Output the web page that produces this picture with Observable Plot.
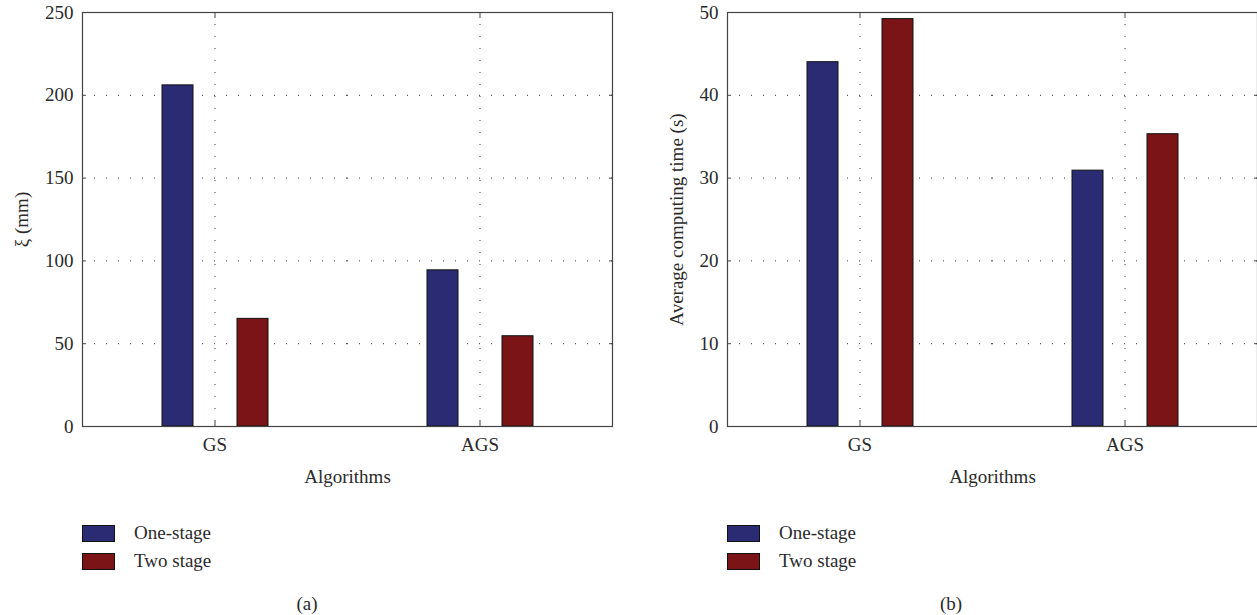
<!DOCTYPE html>
<html>
<head>
<meta charset="utf-8">
<script src="https://cdn.jsdelivr.net/npm/d3@7"></script>
<script src="https://cdn.jsdelivr.net/npm/@observablehq/plot@0.6"></script>
<style>
  html, body { margin: 0; padding: 0; background: #fff; }
  body { width: 1257px; height: 615px; position: relative; overflow: hidden; font-family: "Liberation Serif", serif; color: #2a2a2a; }
  .panel { position: absolute; top: 0; width: 628px; height: 615px; }
  .legend { position: absolute; left: 82px; top: 519px; font-size: 19px; }
  .legend .row { display: flex; align-items: center; height: 28px; }
  .legend .sw { width: 33px; height: 17px; border: 1px solid #111; box-sizing: border-box; margin-right: 19px; }
  .caption { position: absolute; top: 593px; font-size: 19px; transform: translateX(-50%); }
</style>
</head>
<body>
<div class="panel" id="pa"></div>
<div class="panel" id="pb" style="left:645px"></div>
<script>
const categories = ["GS", "AGS"];
const seriesNames = ["One-stage", "Two stage"];
const xiOneStage = [206, 94.3];
const xiTwoStage = [65, 54.5];
const timeOneStage = [44.0, 30.9];
const timeTwoStage = [49.2, 35.3];
const xiTicks = [0, 50, 100, 150, 200, 250];
const timeTicks = [0, 10, 20, 30, 40, 50];
const seriesColors = ["#2a2b73", "#7b1416"];

function buildPanel(one, two, ticks, yLabel, labelOffset) {
  const rows = categories.flatMap((c, i) => [
    {alg: c, series: seriesNames[0], v: one[i]},
    {alg: c, series: seriesNames[1], v: two[i]}
  ]);
  const dots = {stroke: "#333", strokeOpacity: 1, strokeDasharray: "1,11", strokeWidth: 1};
  return Plot.plot({
    width: 628, height: 500,
    marginLeft: 82, marginRight: 16, marginTop: 12, marginBottom: 74,
    style: {fontFamily: "Liberation Serif, serif", fontSize: "19px", color: "#2a2a2a", background: "white", overflow: "visible"},
    fx: {domain: categories, padding: 0, label: null},
    x: {domain: seriesNames, paddingInner: 0.587, paddingOuter: 1.06, axis: null},
    y: {domain: [ticks[0], ticks[ticks.length - 1]], axis: null},
    color: {domain: seriesNames, range: seriesColors},
    marks: [
      Plot.gridY(ticks.slice(1, -1), dots),
      Plot.gridFx(dots),
      Plot.barY(rows, {fx: "alg", x: "series", y: "v", fill: "series", stroke: "#111", strokeWidth: 1}),
      Plot.axisY(ticks, {anchor: "left", tickSize: -4, tickPadding: 13, stroke: "#444", label: yLabel, labelAnchor: "center", labelArrow: "none", labelOffset: labelOffset}),
      Plot.axisY(ticks, {anchor: "right", tickSize: -4, stroke: "#444", tickFormat: () => "", label: null}),
      Plot.axisFx({anchor: "bottom", tickSize: -5, tickPadding: 16, stroke: "#444", label: "Algorithms", labelAnchor: "center", labelArrow: "none", labelOffset: 56}),
      Plot.axisFx({anchor: "top", tickSize: -5, stroke: "#444", tickFormat: () => "", label: null}),
      Plot.frame({facet: "super", stroke: "#444", strokeWidth: 1.2})
    ]
  });
}

function legend() {
  const d = document.createElement("div");
  d.className = "legend";
  seriesNames.forEach((s, i) => {
    const r = document.createElement("div");
    r.className = "row";
    const sw = document.createElement("div");
    sw.className = "sw";
    sw.style.background = seriesColors[i];
    const t = document.createElement("span");
    t.textContent = s;
    r.appendChild(sw); r.appendChild(t);
    d.appendChild(r);
  });
  return d;
}

function caption(text, x) {
  const c = document.createElement("div");
  c.className = "caption";
  c.style.left = x + "px";
  c.textContent = text;
  return c;
}

const pa = document.getElementById("pa");
pa.appendChild(buildPanel(xiOneStage, xiTwoStage, xiTicks, "ξ (mm)", 68));
pa.appendChild(legend());
pa.appendChild(caption("(a)", 307));

const pb = document.getElementById("pb");
pb.appendChild(buildPanel(timeOneStage, timeTwoStage, timeTicks, "Average computing time (s)", 58));
pb.appendChild(legend());
pb.appendChild(caption("(b)", 306));
</script>
</body>
</html>
